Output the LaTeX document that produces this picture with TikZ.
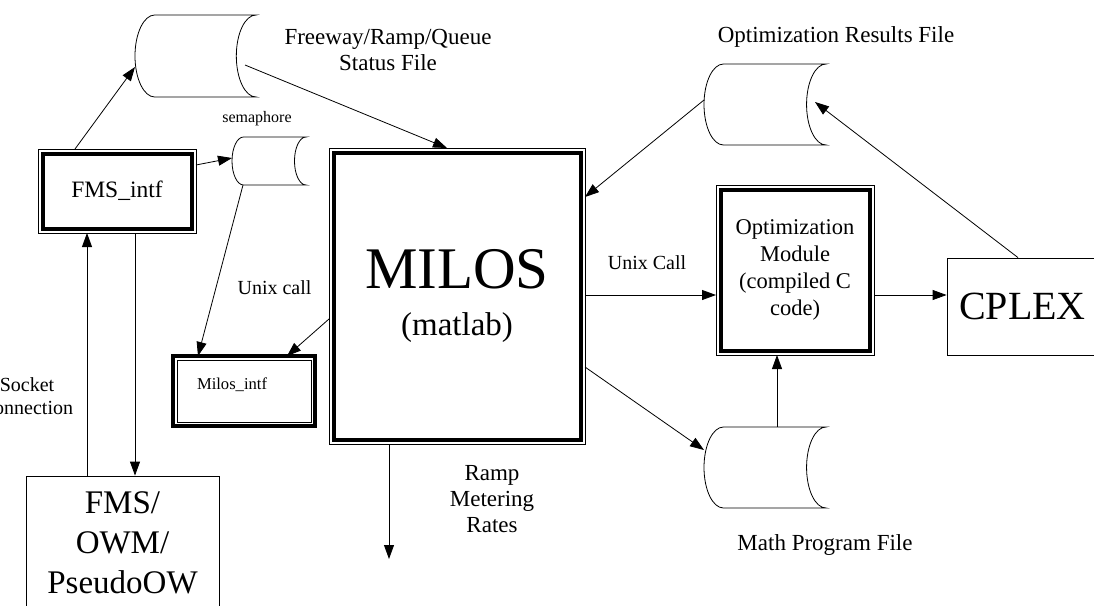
\documentclass[tikz,border=0pt]{standalone}
\usepackage{fontspec}
\setmainfont{Liberation Serif}
\usetikzlibrary{positioning,arrows.meta}
\tikzstyle{box} = [draw]
\tikzstyle{module} = [draw, line width=4pt, outer sep=4.5pt,
    append after command={\pgfextra{\draw[line width=0.8pt] (\tikzlastnode.north west) rectangle (\tikzlastnode.south east);}}]
\tikzstyle{submodule} = [draw, outer sep=4pt,
    append after command={\pgfextra{\draw[line width=4pt] (\tikzlastnode.north west) rectangle (\tikzlastnode.south east);}}]
\tikzstyle{lbl} = [align=center, font=\fontsize{23}{26}\selectfont]
\tikzstyle{smalllbl} = [align=center, font=\fontsize{20}{23}\selectfont]
\tikzset{store/.style 2 args={minimum width=#1, minimum height=#2, inner sep=0pt, outer sep=0pt,
    append after command={\pgfextra{\draw[line width=0.8pt]
      ([xshift=0.24*#2]\tikzlastnode.north west) -- (\tikzlastnode.north east)
      arc[start angle=90, end angle=270, x radius=0.24*#2, y radius=0.5*#2]
      -- ([xshift=0.24*#2]\tikzlastnode.south west)
      arc[start angle=270, end angle=90, x radius=0.24*#2, y radius=0.5*#2];}}}}

\begin{document}
\begin{tikzpicture}[x=1pt, y=-1pt, line width=0.8pt, >={Triangle[length=14pt,width=10pt]}]
    \useasboundingbox (0,0) rectangle (1094,605);
    % files
    \node[store={121pt}{82pt}] (status) at (195.5,56) {};
    \node[store={74pt}{48pt}] (sem) at (269,161) {};
    \node[store={122pt}{81pt}] (results) at (765,104.5) {};
    \node[store={122pt}{81pt}] (mathfile) at (765,467.5) {};
    % processes
    \node[module, minimum width=149pt, minimum height=75pt, font=\fontsize{23.5}{28}\selectfont] (fmsintf) at (117,191) {FMS\_intf};
    \node[module, minimum width=247pt, minimum height=287pt, align=center, font=\fontsize{33}{47}\selectfont] (milos) at (457,296) {{\fontsize{59}{60}\selectfont MILOS}\\(matlab)};
    \node[module, minimum width=149pt, minimum height=161pt, align=center, font=\fontsize{22.5}{27}\selectfont] (optmod) at (795,270) {Optimization\\Module\\(compiled C\\code)};
    \node[submodule, minimum width=134pt, minimum height=62pt, text width=94pt, align=left, text depth=14pt, font=\fontsize{16.6}{20}\selectfont] (milosintf) at (244,391) {Milos\_intf};
    \node[box, minimum width=193pt, minimum height=134pt, align=center, font=\fontsize{33}{40}\selectfont] (fmsbox) at (122.5,543) {FMS/\\OWM/\\PseudoOW};
    \node[box, minimum width=151pt, minimum height=97pt, font=\fontsize{40}{44}\selectfont] (cplex) at (1022.5,306.5) {CPLEX};
    % labels
    \node[lbl] (statuslbl) at (388,50) {Freeway/Ramp/Queue\\Status File};
    \node[lbl] (resultslbl) at (836,37) {Optimization Results File};
    \node[lbl] (mathlbl) at (825,545) {Math Program File};
    \node[lbl] (rateslbl) at (492,499) {Ramp\\Metering\\Rates};
    \node[font=\fontsize{16}{19}\selectfont, above=7pt of sem, xshift=-12pt] (semlbl) {semaphore};
    \node[smalllbl] (unixleft) at (274.5,288) {Unix call};
    \node[smalllbl] (unixright) at (647,263) {Unix Call};
    \node[smalllbl] (socketlbl) at (27,396) {Socket\\Connection};
    \coordinate (rates) at (389,559);
    % data flow
    \draw[->] ([xshift=-42pt]fmsintf.north) -- ([yshift=-11pt]status.west);
    \draw[->] ([yshift=26pt]fmsintf.east) -- ([yshift=3pt]sem.west);
    \draw[->] ([xshift=-26pt]sem.south) -- ([xshift=-46pt]milosintf.north);
    \draw[->] ([yshift=-23pt]milos.west) -- ([xshift=43pt]milosintf.north);
    \draw[->] ([shift={(-11pt,-9pt)}]status.east) -- ([xshift=-10pt]milos.north);
    \draw[->] ([yshift=4.5pt]results.west) -- ([yshift=99pt]milos.east);
    \draw[->] ([xshift=-4.5pt]cplex.north) -- ([shift={(-11pt,2.5pt)}]results.east);
    \draw[->] ([yshift=1pt]milos.east) -- ([yshift=-25pt]optmod.west);
    \draw[->] ([yshift=-25pt]optmod.east) -- ([yshift=11.5pt]cplex.west);
    \draw[->] ([yshift=-71pt]milos.east) -- ([yshift=17.5pt]mathfile.west);
    \draw[->] ([xshift=12pt]mathfile.north) -- ([xshift=-18pt]optmod.south);
    \draw[->] (milos.south -| rates) -- (rates);
    \draw[->] ([xshift=-35.5pt]fmsbox.north) -- ([xshift=-30pt]fmsintf.south);
    \draw[->] ([xshift=18pt]fmsintf.south) -- ([xshift=12.5pt]fmsbox.north);
\end{tikzpicture}
\end{document}
